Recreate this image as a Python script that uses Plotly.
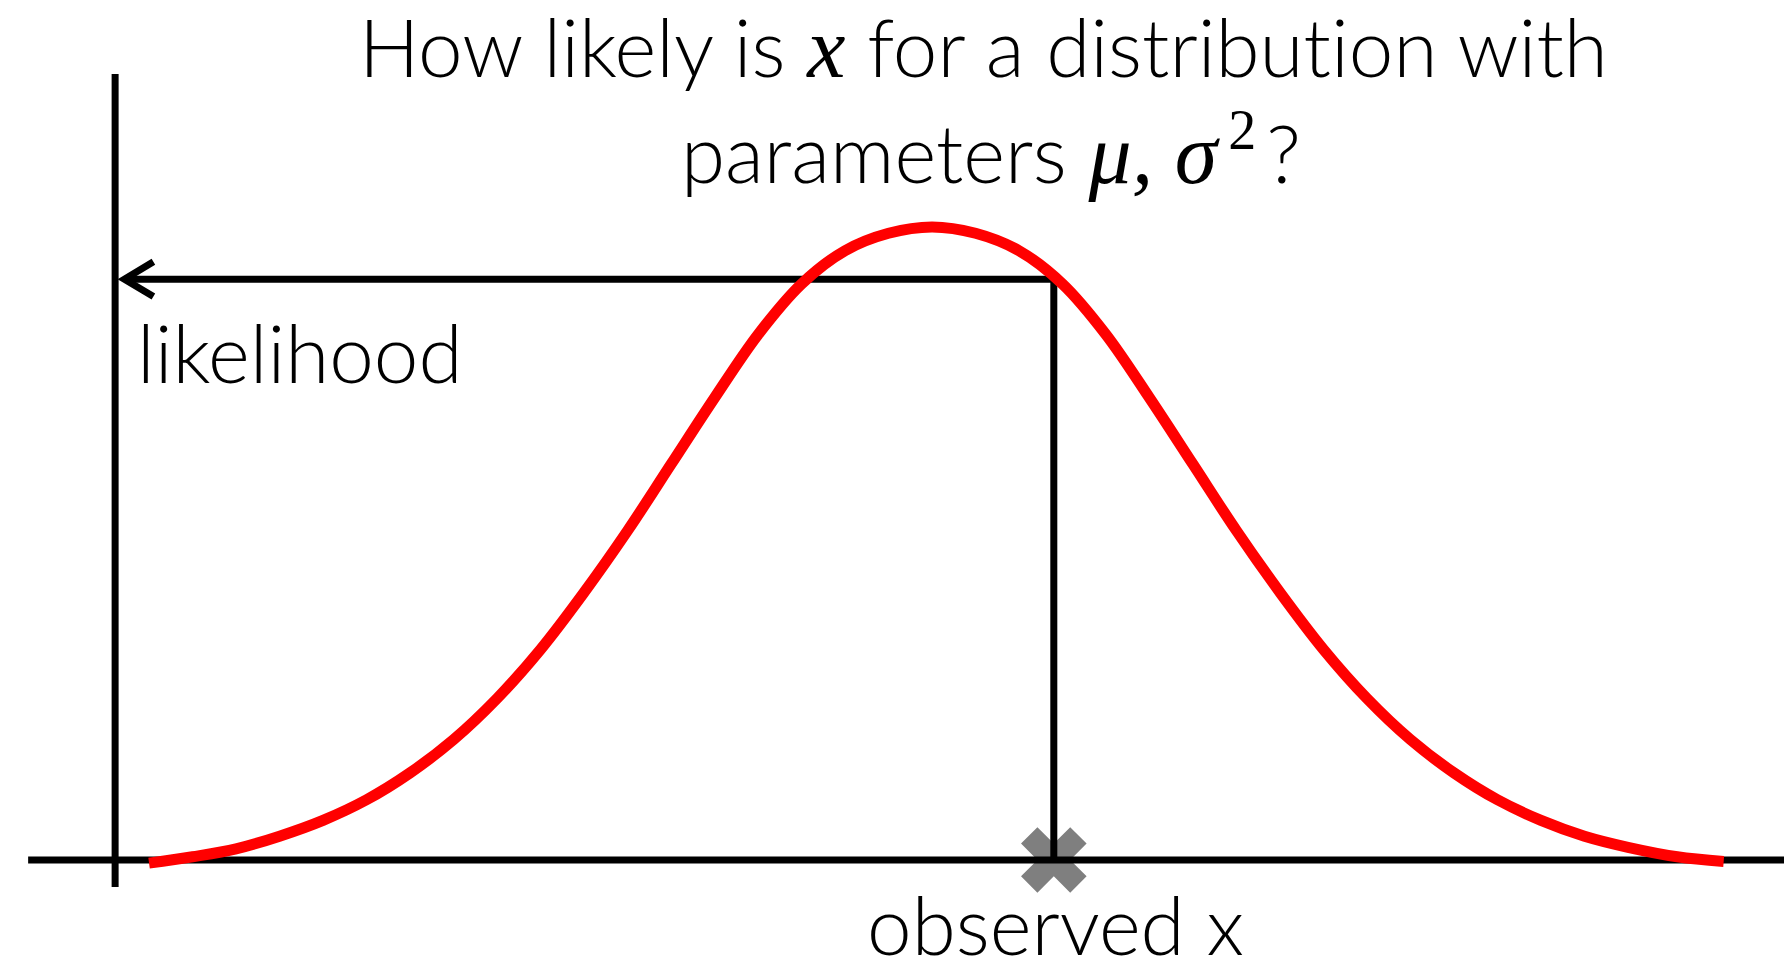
import plotly.graph_objects as go

# ---- data (x in standard deviations from the mean, y = density) ----
curve_x = [-2.70, -2.55, -2.40, -2.25, -2.10, -1.95, -1.80, -1.65, -1.50, -1.35,
           -1.20, -1.05, -0.90, -0.75, -0.60, -0.45, -0.30, -0.15, 0.00,
           0.15, 0.30, 0.45, 0.60, 0.75, 0.90, 1.05, 1.20, 1.35, 1.50,
           1.65, 1.80, 1.95, 2.10, 2.25, 2.40, 2.57, 2.73]
curve_y = [-0.002, 0.002, 0.007, 0.015, 0.025, 0.038, 0.055, 0.076, 0.102, 0.133,
           0.169, 0.208, 0.250, 0.292, 0.332, 0.364, 0.385, 0.396, 0.400,
           0.396, 0.385, 0.364, 0.332, 0.292, 0.250, 0.208, 0.169, 0.133, 0.102,
           0.076, 0.055, 0.038, 0.025, 0.015, 0.008, 0.002, -0.001]

observed_x = 0.42
likelihood_at_x = 0.367

MATH = 'font-family:Liberation Serif;font-style:italic;font-weight:400;font-size:86px'
title_line1 = ('<span style="font-variant-ligatures:none">How likely is '
               f'<span style="{MATH}">x</span> for a distribution with</span>')
title_line2 = (f'parameters <span style="{MATH}">μ, σ</span>'
               '<sup><span style="font-family:Liberation Serif;font-weight:400">\u20092</span></sup>\u2009?')
label_likelihood = "likelihood"
label_observed = "observed x"

# ---- layout constants ----
W, H = 1784, 962
x_range = [-3.214, 2.938]
y_range = [-0.0645, 0.5434]
y_axis_x = -2.817
y_axis_span = [-0.0171, 0.4967]
x_axis_start = -3.117
arrow_tip = -2.785
chev_dx, chev_dy = 0.10, 0.0110

FONT = "Lato, Liberation Sans, sans-serif"
BLACK_W = 7

fig = go.Figure()

# observed-value cross (behind the lines)
fig.add_trace(go.Scatter(x=[observed_x], y=[0], mode="markers",
                         marker=dict(symbol="x", size=58, color="#7f7f7f", line=dict(width=0)),
                         hoverinfo="skip"))

# horizontal axis
fig.add_trace(go.Scatter(x=[x_axis_start, x_range[1]], y=[0, 0], mode="lines",
                         line=dict(color="black", width=BLACK_W), hoverinfo="skip"))
# vertical axis
fig.add_trace(go.Scatter(x=[y_axis_x, y_axis_x], y=y_axis_span, mode="lines",
                         line=dict(color="black", width=BLACK_W), hoverinfo="skip"))
# path from observed x up to the curve and left to the likelihood axis
fig.add_trace(go.Scatter(x=[arrow_tip, observed_x, observed_x],
                         y=[likelihood_at_x, likelihood_at_x, 0], mode="lines",
                         line=dict(color="black", width=BLACK_W), hoverinfo="skip"))
# arrow head (open chevron)
fig.add_trace(go.Scatter(x=[arrow_tip + chev_dx, arrow_tip, arrow_tip + chev_dx],
                         y=[likelihood_at_x + chev_dy, likelihood_at_x, likelihood_at_x - chev_dy],
                         mode="lines", line=dict(color="black", width=BLACK_W), hoverinfo="skip"))

# the distribution
fig.add_trace(go.Scatter(x=curve_x, y=curve_y, mode="lines",
                         line=dict(color="#ff0000", width=11, shape="spline", smoothing=1.0),
                         hoverinfo="skip"))


def px_x(p):
    return p / W


def px_y(p):
    return 1 - p / H


annotations = [
    dict(text=title_line1, x=px_x(983), y=px_y(47), xanchor="center", yanchor="middle"),
    dict(text=title_line2, x=px_x(991), y=px_y(150), xanchor="center", yanchor="middle"),
    dict(text=label_likelihood, x=px_x(135), y=px_y(352), xanchor="left", yanchor="middle"),
    dict(text=label_observed, x=px_x(1055), y=px_y(924), xanchor="center", yanchor="middle"),
]
for a in annotations:
    a.update(xref="paper", yref="paper", showarrow=False,
             font=dict(family=FONT, size=80, color="black", weight=300))

fig.update_layout(
    width=W, height=H,
    margin=dict(l=0, r=0, t=0, b=0),
    paper_bgcolor="white", plot_bgcolor="white",
    showlegend=False,
    xaxis=dict(range=x_range, visible=False, fixedrange=True),
    yaxis=dict(range=y_range, visible=False, fixedrange=True),
    annotations=annotations,
)

fig.write_html("out.html", config={"displayModeBar": False},
               post_script="document.body.style.margin='0';document.body.style.overflow='hidden';")
